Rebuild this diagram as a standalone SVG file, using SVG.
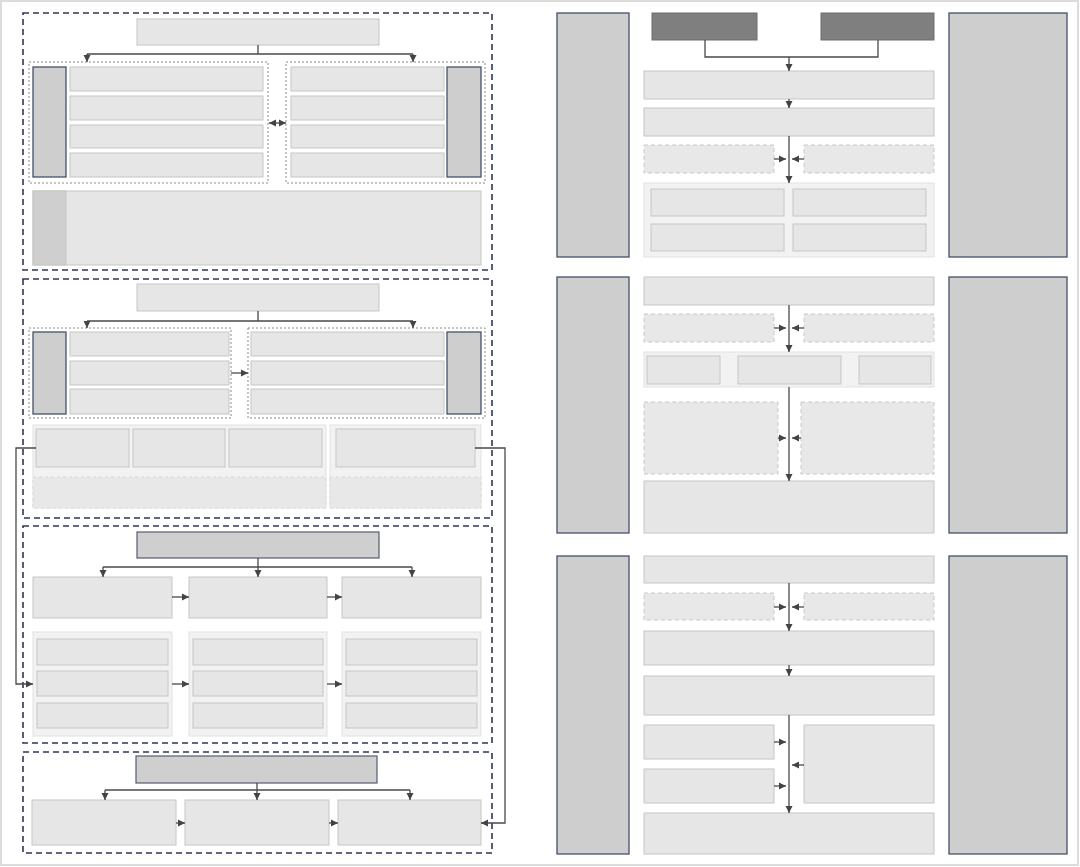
<svg xmlns="http://www.w3.org/2000/svg" width="1080" height="867" viewBox="0 0 1080 867">
<style>
.bg{fill:#ffffff}
.frame{fill:none;stroke:#dcdcdc;stroke-width:2}
.sec{fill:none;stroke:#2f3658;stroke-width:1.6;stroke-dasharray:6 4}
.grp{fill:none;stroke:#8a8a8a;stroke-width:1;stroke-dasharray:2 2}
.n{fill:#e6e6e6;stroke:#c6c6c6;stroke-width:1}
.nd{fill:#e8e8e8;stroke:#c8c8c8;stroke-width:1;stroke-dasharray:4 3}
.ndl{fill:#e8e8e8;stroke:#dadada;stroke-width:1;stroke-dasharray:3 3}
.bar{fill:#cfcecf;stroke:#46506c;stroke-width:1.3}
.hd{fill:#d0cfd0;stroke:#555a70;stroke-width:1.2}
.dk{fill:#7f7f7f;stroke:#6c6c6c;stroke-width:1}
.box{fill:#f2f2f2;stroke:#e2e2e2;stroke-width:1}
.ln{fill:none;stroke:#4a4a4a;stroke-width:1.3}
</style>
<defs>
<marker id="ah" markerWidth="9" markerHeight="9" refX="7" refY="4.5" orient="auto" markerUnits="userSpaceOnUse">
<path d="M0,1 L7,4.5 L0,8 Z" fill="#444"/>
</marker>
<marker id="as" markerWidth="9" markerHeight="9" refX="1" refY="4.5" orient="auto" markerUnits="userSpaceOnUse">
<path d="M8,1 L1,4.5 L8,8 Z" fill="#444"/>
</marker>
</defs>
<rect class="bg" x="0" y="0" width="1080" height="867"/>
<rect class="frame" x="1" y="1" width="1077" height="864"/>

<!-- Left column -->
<g id="section1">
<rect class="sec" x="23" y="13" width="469" height="257"/>
<rect class="n" x="137" y="19" width="242" height="26"/>
<rect class="grp" x="29" y="62" width="239" height="121"/>
<rect class="grp" x="286" y="62" width="199" height="121"/>
<rect class="bar" x="33" y="67" width="33" height="110"/>
<rect class="n" x="70" y="67" width="193" height="24"/>
<rect class="n" x="70" y="96" width="193" height="24"/>
<rect class="n" x="70" y="125" width="193" height="23"/>
<rect class="n" x="70" y="153" width="193" height="24"/>
<rect class="n" x="291" y="67" width="153" height="24"/>
<rect class="n" x="291" y="96" width="153" height="24"/>
<rect class="n" x="291" y="125" width="153" height="23"/>
<rect class="n" x="291" y="153" width="153" height="24"/>
<rect class="bar" x="447" y="67" width="34" height="110"/>
<rect class="n" x="33" y="191" width="448" height="74"/>
<rect x="33" y="191" width="33" height="74" fill="#d0cfd0" stroke="#c6c6c6" stroke-width="1"/>
</g>

<g id="section2">
<rect class="sec" x="23" y="279" width="469" height="239"/>
<rect class="n" x="137" y="284" width="242" height="27"/>
<rect class="grp" x="29" y="328" width="202" height="90"/>
<rect class="grp" x="248" y="328" width="237" height="90"/>
<rect class="bar" x="33" y="332" width="33" height="82"/>
<rect class="n" x="70" y="332" width="159" height="24"/>
<rect class="n" x="70" y="361" width="159" height="24"/>
<rect class="n" x="70" y="389" width="159" height="25"/>
<rect class="n" x="251" y="332" width="193" height="24"/>
<rect class="n" x="251" y="361" width="193" height="24"/>
<rect class="n" x="251" y="389" width="193" height="25"/>
<rect class="bar" x="447" y="332" width="34" height="82"/>
<rect class="box" x="33" y="425" width="293" height="83"/>
<rect class="ndl" x="33" y="477" width="293" height="31"/>
<rect class="n" x="36" y="429" width="93" height="38"/>
<rect class="n" x="133" y="429" width="92" height="38"/>
<rect class="n" x="229" y="429" width="93" height="38"/>
<rect class="box" x="330" y="425" width="151" height="83"/>
<rect class="ndl" x="330" y="477" width="151" height="31"/>
<rect class="n" x="336" y="429" width="139" height="38"/>
</g>

<g id="section3">
<rect class="sec" x="23" y="526" width="469" height="217"/>
<rect class="hd" x="137" y="532" width="242" height="26"/>
<rect class="n" x="33" y="577" width="139" height="41"/>
<rect class="n" x="189" y="577" width="138" height="41"/>
<rect class="n" x="342" y="577" width="139" height="41"/>
<rect class="box" x="33" y="632" width="139" height="104"/>
<rect class="box" x="189" y="632" width="138" height="104"/>
<rect class="box" x="342" y="632" width="139" height="104"/>
<rect class="n" x="37" y="639" width="131" height="26"/>
<rect class="n" x="37" y="671" width="131" height="25"/>
<rect class="n" x="37" y="703" width="131" height="25"/>
<rect class="n" x="193" y="639" width="130" height="26"/>
<rect class="n" x="193" y="671" width="130" height="25"/>
<rect class="n" x="193" y="703" width="130" height="25"/>
<rect class="n" x="346" y="639" width="131" height="26"/>
<rect class="n" x="346" y="671" width="131" height="25"/>
<rect class="n" x="346" y="703" width="131" height="25"/>
</g>

<g id="section4">
<rect class="sec" x="23" y="752" width="469" height="101"/>
<rect class="hd" x="136" y="756" width="241" height="27"/>
<rect class="n" x="32" y="800" width="144" height="45"/>
<rect class="n" x="185" y="800" width="144" height="45"/>
<rect class="n" x="338" y="800" width="143" height="45"/>
</g>

<!-- Right column -->
<g id="panel1">
<rect class="bar" x="557" y="13" width="72" height="244"/>
<rect class="bar" x="949" y="13" width="118" height="244"/>
<rect class="dk" x="652" y="13" width="105" height="27"/>
<rect class="dk" x="821" y="13" width="113" height="27"/>
<rect class="n" x="644" y="71" width="290" height="28"/>
<rect class="n" x="644" y="108" width="290" height="28"/>
<rect class="nd" x="644" y="145" width="130" height="28"/>
<rect class="nd" x="804" y="145" width="130" height="28"/>
<rect class="box" x="644" y="183" width="290" height="74"/>
<rect class="n" x="651" y="189" width="133" height="27"/>
<rect class="n" x="793" y="189" width="133" height="27"/>
<rect class="n" x="651" y="224" width="133" height="27"/>
<rect class="n" x="793" y="224" width="133" height="27"/>
</g>

<g id="panel2">
<rect class="bar" x="557" y="277" width="72" height="256"/>
<rect class="bar" x="949" y="277" width="118" height="256"/>
<rect class="n" x="644" y="277" width="290" height="28"/>
<rect class="nd" x="644" y="314" width="130" height="28"/>
<rect class="nd" x="804" y="314" width="130" height="28"/>
<rect class="box" x="644" y="352" width="290" height="35"/>
<rect class="n" x="647" y="356" width="73" height="28"/>
<rect class="n" x="738" y="356" width="103" height="28"/>
<rect class="n" x="859" y="356" width="72" height="28"/>
<rect class="nd" x="644" y="402" width="134" height="72"/>
<rect class="nd" x="801" y="402" width="133" height="72"/>
<rect class="n" x="644" y="481" width="290" height="52"/>
</g>

<g id="panel3">
<rect class="bar" x="557" y="556" width="72" height="298"/>
<rect class="bar" x="949" y="556" width="118" height="298"/>
<rect class="n" x="644" y="556" width="290" height="27"/>
<rect class="nd" x="644" y="593" width="130" height="27"/>
<rect class="nd" x="804" y="593" width="130" height="27"/>
<rect class="n" x="644" y="631" width="290" height="34"/>
<rect class="n" x="644" y="676" width="290" height="39"/>
<rect class="n" x="644" y="725" width="130" height="34"/>
<rect class="n" x="644" y="769" width="130" height="34"/>
<rect class="n" x="804" y="725" width="130" height="78"/>
<rect class="n" x="644" y="813" width="290" height="41"/>
</g>

<g id="connectors">
<!-- section 1 -->
<path class="ln" d="M258,45 V54 M87,54 H413"/>
<path class="ln" d="M87,54 V62" marker-end="url(#ah)"/>
<path class="ln" d="M413,54 V62" marker-end="url(#ah)"/>
<path class="ln" d="M269,123 H286" marker-start="url(#as)" marker-end="url(#ah)"/>
<!-- section 2 -->
<path class="ln" d="M258,311 V321 M87,321 H413"/>
<path class="ln" d="M87,321 V328" marker-end="url(#ah)"/>
<path class="ln" d="M413,321 V328" marker-end="url(#ah)"/>
<path class="ln" d="M231,373 H248" marker-end="url(#ah)"/>
<path class="ln" d="M36,448 H16 V684 H33" marker-end="url(#ah)"/>
<path class="ln" d="M475,448 H505 V823 H481" marker-end="url(#ah)"/>
<!-- section 3 -->
<path class="ln" d="M258,558 V567 M103,567 H412"/>
<path class="ln" d="M103,567 V577" marker-end="url(#ah)"/>
<path class="ln" d="M258,567 V577" marker-end="url(#ah)"/>
<path class="ln" d="M412,567 V577" marker-end="url(#ah)"/>
<path class="ln" d="M172,597 H189" marker-end="url(#ah)"/>
<path class="ln" d="M327,597 H342" marker-end="url(#ah)"/>
<path class="ln" d="M172,684 H189" marker-end="url(#ah)"/>
<path class="ln" d="M327,684 H342" marker-end="url(#ah)"/>
<!-- section 4 -->
<path class="ln" d="M257,783 V790 M105,790 H410"/>
<path class="ln" d="M105,790 V800" marker-end="url(#ah)"/>
<path class="ln" d="M257,790 V800" marker-end="url(#ah)"/>
<path class="ln" d="M410,790 V800" marker-end="url(#ah)"/>
<path class="ln" d="M176,823 H185" marker-end="url(#ah)"/>
<path class="ln" d="M329,823 H338" marker-end="url(#ah)"/>
<!-- panel 1 -->
<path class="ln" d="M705,40 V57 H878 V40"/>
<path class="ln" d="M789,57 V71" marker-end="url(#ah)"/>
<path class="ln" d="M789,99 V108" marker-end="url(#ah)"/>
<path class="ln" d="M789,136 V183" marker-end="url(#ah)"/>
<path class="ln" d="M774,159 H786" marker-end="url(#ah)"/>
<path class="ln" d="M804,159 H792" marker-end="url(#ah)"/>
<!-- panel 2 -->
<path class="ln" d="M789,305 V352" marker-end="url(#ah)"/>
<path class="ln" d="M774,328 H786" marker-end="url(#ah)"/>
<path class="ln" d="M804,328 H792" marker-end="url(#ah)"/>
<path class="ln" d="M789,387 V481" marker-end="url(#ah)"/>
<path class="ln" d="M778,438 H786" marker-end="url(#ah)"/>
<path class="ln" d="M801,438 H792" marker-end="url(#ah)"/>
<!-- panel 3 -->
<path class="ln" d="M789,583 V631" marker-end="url(#ah)"/>
<path class="ln" d="M774,607 H786" marker-end="url(#ah)"/>
<path class="ln" d="M804,607 H792" marker-end="url(#ah)"/>
<path class="ln" d="M789,665 V676" marker-end="url(#ah)"/>
<path class="ln" d="M789,715 V813" marker-end="url(#ah)"/>
<path class="ln" d="M774,742 H786" marker-end="url(#ah)"/>
<path class="ln" d="M774,786 H786" marker-end="url(#ah)"/>
<path class="ln" d="M804,765 H792" marker-end="url(#ah)"/>
</g>
</svg>
